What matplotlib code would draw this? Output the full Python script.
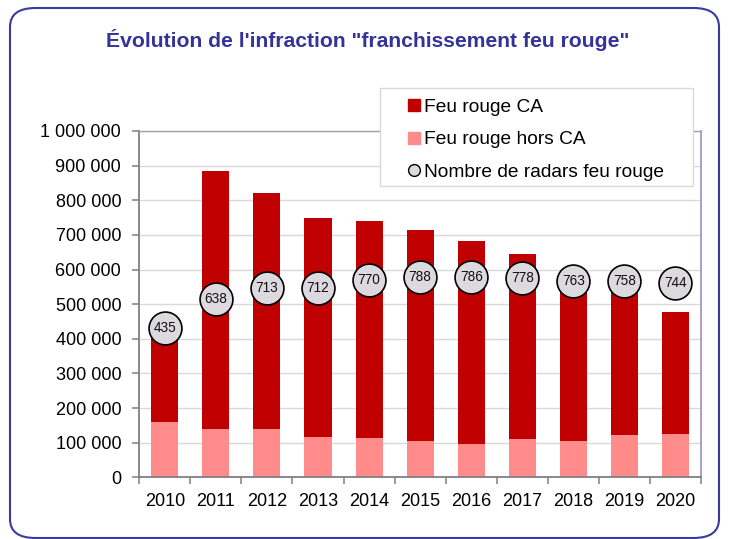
import matplotlib
matplotlib.use("Agg")
import matplotlib.pyplot as plt
from matplotlib.patches import FancyBboxPatch, Rectangle
from matplotlib.lines import Line2D
from matplotlib.ticker import FuncFormatter, FixedLocator

plt.rcParams['font.family'] = ['Liberation Sans', 'DejaVu Sans']

# === données ===
annees = ['2010', '2011', '2012', '2013', '2014', '2015', '2016', '2017', '2018', '2019', '2020']
total = [401000, 884000, 820000, 750000, 741000, 713000, 683000, 645000, 565000, 560000, 476000]
hors_ca = [159000, 139000, 140000, 117000, 114000, 105000, 96000, 112000, 105000, 123000, 125000]
ca = [t - h for t, h in zip(total, hors_ca)]
radars = [435, 638, 713, 712, 770, 788, 786, 778, 763, 758, 744]

W, H = 729, 539
fig = plt.figure(figsize=(W / 100, H / 100), dpi=100)

# cadre arrondi
cadre = FancyBboxPatch((10 / W, 1 / H), (W - 20) / W, (H - 9) / H,
                       boxstyle="round,pad=0,rounding_size=0.035",
                       transform=fig.transFigure, facecolor='white',
                       edgecolor='#3a3aa0', linewidth=1.5, zorder=-1)
fig.patches.append(cadre)

fig.text(368 / W, 1 - 40 / H, "Évolution de l'infraction \"franchissement feu rouge\"",
         ha='center', va='center', fontsize=15.2, fontweight='bold', color='#333399')

ax = fig.add_axes([139.3 / W, 1 - 477.3 / H, (701 - 139.3) / W, (477.3 - 131) / H])
x = range(len(annees))
ax.bar(x, hors_ca, width=0.53, color='#ff8b8b', zorder=2)
ax.bar(x, ca, bottom=hors_ca, width=0.53, color='#c00000', zorder=2)

ax.set_xlim(-0.5, len(annees) - 0.5)
ax.set_ylim(0, 1000000)
ax.set_yticks(range(0, 1000001, 100000))
ax.yaxis.set_major_formatter(FuncFormatter(lambda v, p: f"{int(v):,}".replace(',', ' ')))
ax.set_xticks(list(x))
ax.set_xticklabels(annees)
ax.xaxis.set_minor_locator(FixedLocator([i - 0.5 for i in range(len(annees) + 1)]))
ax.tick_params(axis='x', which='major', length=0, pad=11, labelsize=13)
ax.tick_params(axis='x', which='minor', length=5, width=1.1, color='#808080', direction='out')
ax.tick_params(axis='y', length=5, width=1.1, color='#808080', pad=8, labelsize=13)
ax.grid(axis='y', color='#d9d9d9', linewidth=1, zorder=0)
ax.set_axisbelow(True)
for s in ['left', 'bottom']:
    ax.spines[s].set_color('#808080')
    ax.spines[s].set_linewidth(1.3)
ax.spines['top'].set_color('#a0a0a0')
ax.spines['top'].set_linewidth(1)
ax.spines['right'].set_color('#a08cc6')
ax.spines['right'].set_linewidth(1.2)

# axe secondaire pour les radars
ax2 = ax.twinx()
ax2.set_ylim(-600, 1800)
ax2.axis('off')
ax2.scatter(x, radars, s=560, color='#dddadf', edgecolor='black', linewidth=1.2, zorder=3)
for xi, r in zip(x, radars):
    ax2.text(xi, r, str(r), ha='center', va='center', fontsize=9.8, color='#111111', zorder=4)

# légende
fig.patches.append(Rectangle((380 / W, 1 - 186 / H), (693 - 380) / W, (186 - 88) / H,
                             transform=fig.transFigure, facecolor='white',
                             edgecolor='#d9d9d9', linewidth=1, zorder=5))
handles = [
    Line2D([], [], marker='s', linestyle='none', markersize=8, color='#c00000'),
    Line2D([], [], marker='s', linestyle='none', markersize=8, color='#ff8b8b'),
    Line2D([], [], marker='o', linestyle='none', markersize=8.5, markerfacecolor='#dddadf',
           markeredgecolor='black', markeredgewidth=1),
]
leg = fig.legend(handles, ['Feu rouge CA', 'Feu rouge hors CA', 'Nombre de radars feu rouge'],
                 loc='upper left', bbox_to_anchor=(398 / W, 1 - 89 / H), frameon=False,
                 fontsize=13.8, handlelength=0.7, handletextpad=0.15, labelspacing=0.78,
                 borderpad=0)
leg.set_zorder(6)

fig.savefig('out.png', dpi=100)
